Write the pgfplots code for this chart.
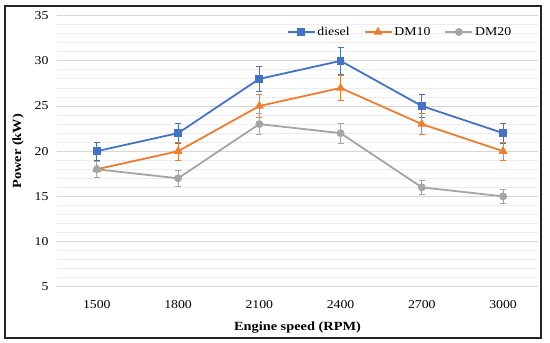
\documentclass[border=0pt]{standalone}
\usepackage{fontspec}
\setmainfont{Liberation Serif}[FakeStretch=1.15]
\usepackage{pgfplots}
\pgfplotsset{compat=1.18}
\definecolor{cdiesel}{HTML}{4472C4}
\definecolor{cdm10}{HTML}{ED7D31}
\definecolor{cdm20}{HTML}{A5A5A5}
\begin{document}
\begin{tikzpicture}[x=1pt,y=1pt]
\path[use as bounding box] (-57,-56.3) rectangle (493,286.7);
\draw[line width=1.3pt, black!85] (-52,-51.3) rectangle (484,280.7);
\begin{axis}[
  at={(0,0)}, anchor=south west,
  scale only axis, width=481pt, height=271pt,
  xmin=-0.49, xmax=5.43, ymin=5, ymax=35,
  xtick={0,1,2,3,4,5},
  xticklabels={1500,1800,2100,2400,2700,3000},
  ytick={5,10,...,35},
  minor ytick={6,7,8,9,11,12,13,14,16,17,18,19,21,22,23,24,26,27,28,29,31,32,33,34},
  ymajorgrids, yminorgrids,
  major grid style={draw=black!16, line width=0.9pt},
  minor grid style={draw=black!7, line width=0.9pt},
  axis line style={draw=none},
  major tick length=0pt, minor tick length=0pt,
  tick label style={font=\fontsize{12}{14}\selectfont},
  /pgf/number format/assume math mode=true,
  yticklabel style={xshift=-5pt},
  xticklabel style={yshift=-10pt},
  xlabel={\textbf{Engine speed (RPM)}},
  ylabel={\textbf{Power (kW)}},
  label style={font=\fontsize{12.5}{14}\selectfont},
  xlabel style={at={(axis description cs:0.5,0)}, anchor=center, yshift=-41pt},
  ylabel style={at={(axis description cs:0,0.5)}, anchor=center, yshift=39pt},
  legend style={draw=none, fill=none, at={(0.713,0.94)}, anchor=center,
    legend columns=3, font=\fontsize{12}{14}\selectfont,
    /tikz/every even column/.append style={column sep=12pt},
    nodes={inner xsep=2pt}},
  legend image code/.code={
    \draw[mark repeat=2,mark phase=2] plot coordinates {(0pt,0pt) (13.5pt,0pt) (27pt,0pt)};},
  clip=false,
]
\addplot[color=cdiesel, line width=1.8pt, mark=square*, mark size=3pt,
  error bars/.cd, y dir=both, y explicit,
  error bar style={line width=0.8pt, color=cdiesel},
  error mark options={rotate=90, mark size=3pt, line width=0.8pt, color=cdiesel}]
  coordinates {(0,20) +- (0,1.0) (1,22) +- (0,1.1) (2,28) +- (0,1.4) (3,30) +- (0,1.5) (4,25) +- (0,1.25) (5,22) +- (0,1.1)};
\addlegendentry{diesel}
\addplot[color=cdm10, line width=1.8pt, mark=triangle*, mark size=3.4pt,
  error bars/.cd, y dir=both, y explicit,
  error bar style={line width=0.8pt, color=cdm10},
  error mark options={rotate=90, mark size=3pt, line width=0.8pt, color=cdm10}]
  coordinates {(0,18) +- (0,0.9) (1,20) +- (0,1.0) (2,25) +- (0,1.25) (3,27) +- (0,1.35) (4,23) +- (0,1.15) (5,20) +- (0,1.0)};
\addlegendentry{DM10}
\addplot[color=cdm20, line width=1.8pt, mark=*, mark size=3pt,
  error bars/.cd, y dir=both, y explicit,
  error bar style={line width=0.8pt, color=cdm20},
  error mark options={rotate=90, mark size=3pt, line width=0.8pt, color=cdm20}]
  coordinates {(0,18) +- (0,0.9) (1,17) +- (0,0.85) (2,23) +- (0,1.15) (3,22) +- (0,1.1) (4,16) +- (0,0.8) (5,15) +- (0,0.75)};
\addlegendentry{DM20}
\end{axis}
\end{tikzpicture}
\end{document}
